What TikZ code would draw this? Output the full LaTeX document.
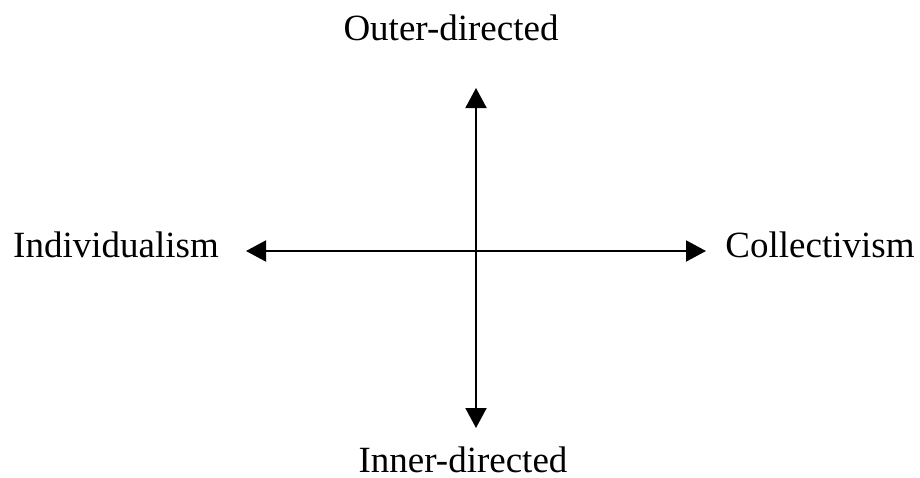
\documentclass[tikz,border=0pt]{standalone}
\usepackage{fontspec}
\setmainfont{Liberation Serif}
\usepackage{tikz}
\usetikzlibrary{arrows.meta}

\begin{document}
\begin{tikzpicture}[x=0.5pt,y=-0.5pt,
  every node/.style={font=\fontsize{18.5}{22}\selectfont,inner sep=0pt,anchor=base},
  axis/.style={{Triangle[width=10.5pt,length=10pt]}-{Triangle[width=10.5pt,length=10pt]},line width=1pt}]
 \useasboundingbox (0,0) rectangle (920,477);
 \node (outer) at (451,40) {Outer-directed};
 \node (inner) at (463,472) {Inner-directed};
 \node (indiv) at (116,257) {Individualism};
 \node (coll)  at (820,257) {Collectivism};
 \coordinate (N) at (476,88);
 \coordinate (S) at (476,428);
 \coordinate (W) at (246,251);
 \coordinate (E) at (706,251);
 \draw[axis] (S) -- (N);
 \draw[axis] (W) -- (E);
\end{tikzpicture}
\end{document}
